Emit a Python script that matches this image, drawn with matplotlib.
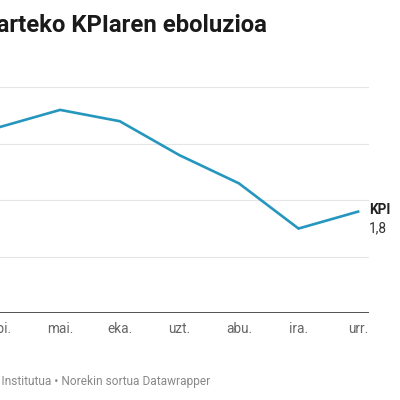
import matplotlib
matplotlib.use("Agg")
import matplotlib.pyplot as plt

months = ["api.", "mai.", "eka.", "uzt.", "abu.", "ira.", "urr."]
kpi = [3.3, 3.6, 3.4, 2.8, 2.3, 1.5, 1.8]
y_ticks = [0, 1, 2, 3, 4]
title = "Urte arteko KPIaren eboluzioa"
footer = "Iturria: Estatistika Institutua • Norekin sortua Datawrapper"
series_name = "KPI"

W = H = 400
fig = plt.figure(figsize=(4, 4), dpi=100)
fig.patch.set_facecolor("white")

px0, px1 = -40.0, 369.0
x0 = (px0 - 0.5) / 59.6
x1 = (px1 - 0.5) / 59.6
top_px, bot_px = 87.3, 313.3
ax = fig.add_axes([px0 / W, 1 - bot_px / H, (px1 - px0) / W, (bot_px - top_px) / H])
ax.set_xlim(x0, x1)
ax.set_ylim(0, 4)
ax.set_facecolor("none")

for yv in y_ticks[1:]:
    ax.axhline(yv, color="#e5e5e5", lw=0.8, zorder=0)
ax.axhline(0, color="#333333", lw=1.2, zorder=1)

xs = list(range(len(months)))
ax.plot(xs, kpi, color="#2596be", lw=1.9, solid_joinstyle="miter", zorder=3)

for s in ax.spines.values():
    s.set_visible(False)
ax.set_yticks([])
ax.set_xticks(xs)
ax.set_xticklabels(months, fontfamily="Roboto", fontsize=9.8, color="#666666")
ax.tick_params(axis="x", length=0, pad=6)

ax.annotate(series_name, xy=(xs[-1], kpi[-1]), xytext=(8, 1), textcoords="offset points",
            fontfamily="Roboto", fontweight="bold", fontsize=9.8, color="#222222",
            va="center", ha="left")
ax.annotate(f"{kpi[-1]:.1f}".replace(".", ","), xy=(xs[-1], kpi[-1]), xytext=(8, -12),
            textcoords="offset points", fontfamily="Roboto", fontsize=9.8, color="#333333",
            va="center", ha="left")

fig.text(267 / W, 1 - 32 / H, title, ha="right", va="baseline",
         fontfamily="Roboto", fontweight="bold", fontsize=17.2, color="#1a1a1a")
fig.text(210 / W, 1 - 381 / H, footer, ha="right", va="center",
         fontfamily="Roboto", fontsize=8.55, color="#888888")

fig.savefig("out.png", dpi=100, facecolor="white")
